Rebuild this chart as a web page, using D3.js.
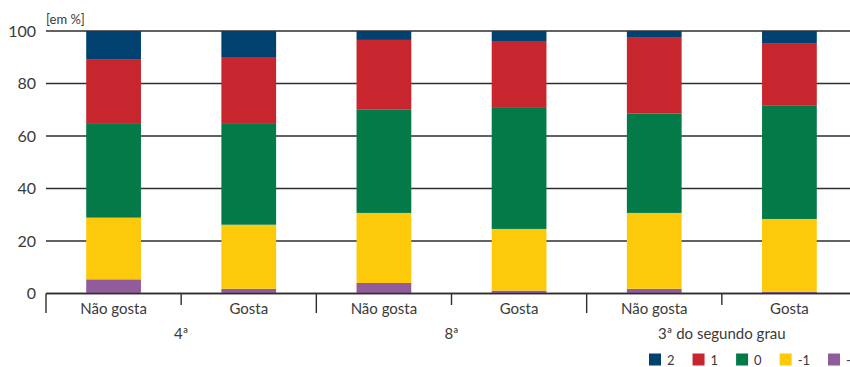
<!DOCTYPE html>
<html><head><meta charset="utf-8">
<script src="https://cdn.jsdelivr.net/npm/d3@7"></script>
<style>
html,body{margin:0;padding:0;background:#fff;overflow:hidden}
svg{display:block;font-family:Lato,"Open Sans",sans-serif}
</style></head>
<body><svg id="chart" width="850" height="367"></svg>
<script>
const groups = ["4ª", "8ª", "3ª do segundo grau"];
const categories = ["Não gosta", "Gosta"];
const seriesKeys = ["-2", "-1", "0", "1", "2"];
const legendKeys = ["2", "1", "0", "-1", "-2"];
const colors = ["#915c9c", "#fdc90b", "#037a48", "#c8262e", "#00416f"];
// values per bar (bottom to top): -2, -1, 0, 1, 2
const vMinus2 = [5.4, 1.8, 4.0, 1.1, 1.8, 0.7];
const vMinus1 = [23.5, 24.4, 26.7, 23.5, 28.9, 27.7];
const vZero   = [35.7, 38.4, 39.3, 46.4, 37.8, 43.1];
const vOne    = [24.7, 25.5, 26.6, 25.2, 29.2, 23.9];
const vTwo    = [10.7, 9.9, 3.4, 3.8, 2.3, 4.6];
const yTicks = [0, 20, 40, 60, 80, 100];

const rows = [];
groups.forEach((g, gi) => categories.forEach((c, ci) => {
  const i = gi * 2 + ci;
  rows.push({key: g + "|" + c, group: g, cat: c,
    "-2": vMinus2[i], "-1": vMinus1[i], "0": vZero[i], "1": vOne[i], "2": vTwo[i]});
}));

const svg = d3.select("#chart");
const pL = 46, pR = 857, pT = 31, pB = 293.5;
const y = d3.scaleLinear().domain([0, 100]).range([pB, pT]);
const xg = d3.scaleBand().domain(groups).range([pL, pR]);
const xc = d3.scaleBand().domain(categories).range([0, xg.bandwidth()]).paddingInner(0.595).paddingOuter(0.2975);
const color = d3.scaleOrdinal().domain(seriesKeys).range(colors);

// gridlines
svg.append("g").selectAll("line").data(yTicks).join("line")
  .attr("x1", pL).attr("x2", 850)
  .attr("y1", d => y(d)).attr("y2", d => y(d))
  .attr("stroke", "#2e2e2e").attr("stroke-width", 1.6);

// y labels
svg.append("g").selectAll("text").data(yTicks).join("text")
  .attr("x", 36).attr("y", d => y(d)).attr("dy", "0.36em")
  .attr("text-anchor", "end").attr("font-size", 16).attr("fill", "#3a3a3a")
  .text(d => d);

svg.append("text").attr("x", 46).attr("y", 24).attr("font-size", 13).attr("fill", "#3a3a3a").text("[em %]");

// bars
const stack = d3.stack().keys(seriesKeys)(rows);
const xPos = d => xg(d.data.group) + xc(d.data.cat);
svg.append("g").selectAll("g").data(stack).join("g")
  .attr("fill", s => color(s.key))
  .selectAll("rect").data(s => s).join("rect")
  .attr("x", xPos).attr("width", xc.bandwidth())
  .attr("y", d => y(d[1])).attr("height", d => y(d[0]) - y(d[1]));

// baseline
svg.append("line").attr("x1", pL).attr("x2", 850).attr("y1", y(0)).attr("y2", y(0))
  .attr("stroke", "#2e2e2e").attr("stroke-width", 1.6);

// group separators
const seps = groups.map(g => xg(g));
svg.append("g").selectAll("line").data(seps).join("line")
  .attr("x1", d => d).attr("x2", d => d).attr("y1", y(0)).attr("y2", 313)
  .attr("stroke", "#2e2e2e").attr("stroke-width", 1.4);
// category ticks
svg.append("g").selectAll("line").data(groups).join("line")
  .attr("x1", g => xg(g) + xg.bandwidth() / 2).attr("x2", g => xg(g) + xg.bandwidth() / 2)
  .attr("y1", y(0)).attr("y2", 305)
  .attr("stroke", "#2e2e2e").attr("stroke-width", 1.4);

// category labels
svg.append("g").selectAll("text").data(rows).join("text")
  .attr("x", d => xg(d.group) + xc(d.cat) + xc.bandwidth() / 2).attr("y", 314)
  .attr("text-anchor", "middle").attr("font-size", 15).attr("fill", "#3a3a3a")
  .text(d => d.cat);

// group labels
svg.append("g").selectAll("text").data(groups).join("text")
  .attr("x", g => xg(g) + xg.bandwidth() / 2).attr("y", 339)
  .attr("text-anchor", "middle").attr("font-size", 15).attr("fill", "#3a3a3a")
  .text(g => g);

// legend
const lg = svg.append("g");
let lx = 649;
legendKeys.forEach(k => {
  lg.append("rect").attr("x", lx).attr("y", 353.5).attr("width", 12).attr("height", 12).attr("fill", color(k));
  const t = lg.append("text").attr("x", lx + 18).attr("y", 364.5).attr("font-size", 13).attr("fill", "#3a3a3a").text(k);
  lx += 18 + t.node().getComputedTextLength() + 18;
});
</script></body></html>
